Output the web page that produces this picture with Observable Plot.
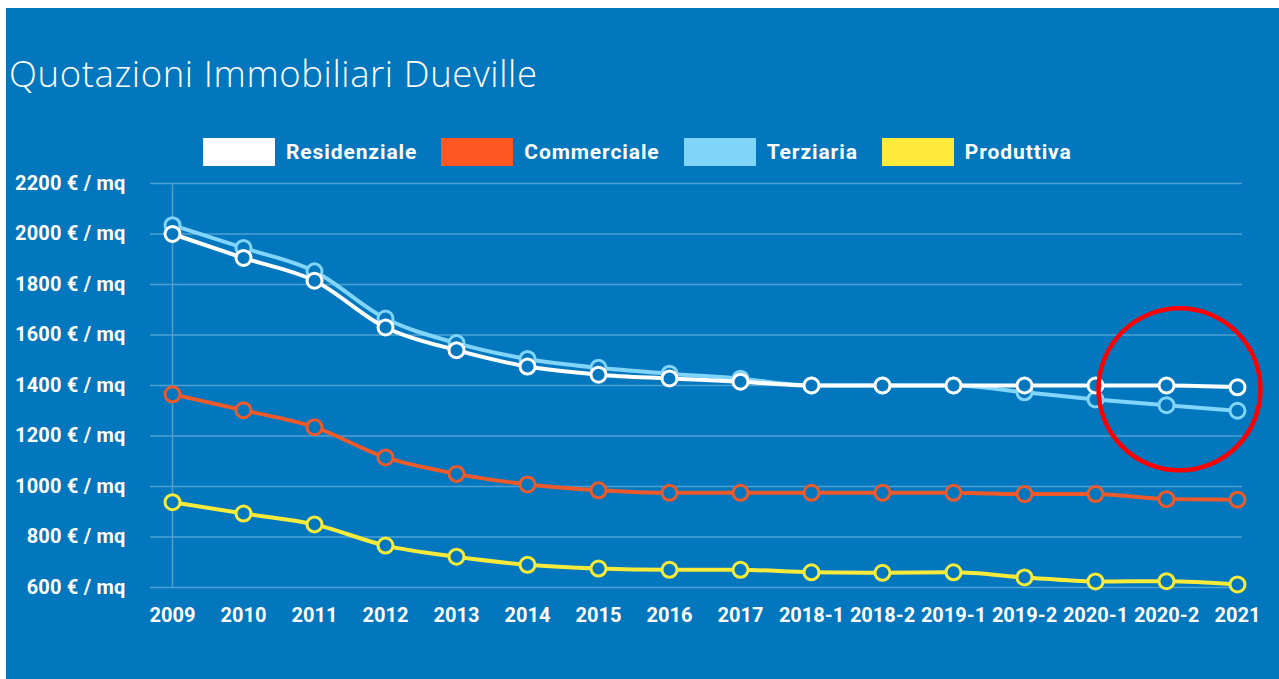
<!DOCTYPE html>
<html>
<head>
<meta charset="utf-8">
<script src="https://cdn.jsdelivr.net/npm/d3@7"></script>
<script src="https://cdn.jsdelivr.net/npm/@observablehq/plot@0.6"></script>
<style>
  html, body { margin: 0; padding: 0; background: #ffffff; }
  #panel { position: absolute; left: 6px; top: 8px; width: 1273px; height: 671px; background: #0277bd; overflow: hidden; }
  #title { position: absolute; left: 3px; top: 40px; font-family: "Open Sans", sans-serif; font-weight: 300; font-size: 36.5px; letter-spacing: 0.6px; color: #ffffff; white-space: nowrap; }
  #legend { position: absolute; left: 197px; top: 130px; display: flex; align-items: center; font-family: Roboto, sans-serif; font-weight: 700; font-size: 21px; letter-spacing: 0.9px; color: #ffffff; }
  .item { display: flex; align-items: center; margin-right: 24px; }
  .swatch { width: 72px; height: 28px; margin-right: 11px; }
  #chart { position: absolute; left: -6px; top: 162px; width: 1279px; }
  #chart svg { max-width: none !important; }
  #chart g[aria-label="y-axis tick label"] text { letter-spacing: 0.2px; }
</style>
</head>
<body>
<div id="panel">
  <div id="title">Quotazioni Immobiliari Dueville</div>
  <div id="legend"></div>
  <div id="chart"></div>
</div>
<script>
const periods = ["2009","2010","2011","2012","2013","2014","2015","2016","2017","2018-1","2018-2","2019-1","2019-2","2020-1","2020-2","2021"];
const residenziale = [2000,1905,1815,1630,1540,1475,1443,1428,1415,1400,1400,1400,1400,1400,1400,1393];
const commerciale  = [1365,1302,1235,1115,1050,1008,985,975,975,975,975,975,970,970,950,948];
const terziaria    = [2035,1945,1852,1665,1568,1505,1470,1447,1427,1400,1400,1400,1373,1345,1322,1300];
const produttiva   = [938,893,850,766,722,690,675,670,670,660,658,660,640,624,625,612];
const yTicks = [600,800,1000,1200,1400,1600,1800,2000,2200];

const seriesNames = ["Residenziale","Commerciale","Terziaria","Produttiva"];
const lineColors = {Residenziale: "#ffffff", Commerciale: "#ec5a2b", Terziaria: "#81d4fa", Produttiva: "#f6eb3a"};
const legendColors = {Residenziale: "#ffffff", Commerciale: "#ff5722", Terziaria: "#81d4fa", Produttiva: "#ffeb3b"};
const bg = "#0277bd";
const grid = "#4ea0d3";

const seriesValues = {Residenziale: residenziale, Commerciale: commerciale, Terziaria: terziaria, Produttiva: produttiva};
// drawing order: Terziaria below Residenziale
const drawOrder = ["Produttiva","Commerciale","Terziaria","Residenziale"];
const data = drawOrder.flatMap(s => periods.map((p, i) => ({series: s, period: p, value: seriesValues[s][i]})));

// legend
const legend = document.getElementById("legend");
for (const s of seriesNames) {
  const item = document.createElement("div");
  item.className = "item";
  const sw = document.createElement("div");
  sw.className = "swatch";
  sw.style.background = legendColors[s];
  const t = document.createElement("span");
  t.textContent = s;
  item.appendChild(sw); item.appendChild(t);
  legend.appendChild(item);
}

const highlight = [{period: "2020-2", value: 1385}];

const marks = [
  Plot.ruleY(yTicks, {stroke: grid, strokeWidth: 1.5}),
  Plot.ruleX([periods[0]], {y1: 600, y2: 2200, stroke: grid, strokeWidth: 1.5}),
  Plot.axisY({ticks: yTicks, tickFormat: d => `${d} € / mq`, tickSize: 17, tickPadding: 25, stroke: grid, strokeWidth: 1.5, fill: "#ffffff", fontSize: 20, fontWeight: 700, fontFamily: "Roboto"}),
  Plot.axisX({tickSize: 0, tickPadding: 20, fill: "#ffffff", fontSize: 20, fontWeight: 700, fontFamily: "Roboto"})
];
for (const s of drawOrder) {
  const d = data.filter(r => r.series === s);
  marks.push(Plot.line(d, {x: "period", y: "value", stroke: lineColors[s], strokeWidth: 4, curve: "monotone-x"}));
  marks.push(Plot.dot(d, {x: "period", y: "value", r: 7.5, stroke: lineColors[s], strokeWidth: 3, fill: bg}));
}
marks.push(Plot.dot(highlight, {x: "period", y: "value", r: 81, dx: 13, stroke: "#ff0000", strokeWidth: 4.5, fill: "none"}));

const chart = Plot.plot({
  width: 1279,
  height: 470,
  marginLeft: 167,
  marginRight: 37,
  marginTop: 13,
  marginBottom: 53,
  style: {background: "transparent", color: "#ffffff", fontFamily: "Roboto", maxWidth: "none"},
  x: {type: "point", domain: periods, padding: 0, label: null, axis: null},
  y: {domain: [600, 2200], label: null, axis: null},
  marks
});
document.getElementById("chart").appendChild(chart);
</script>
</body>
</html>
